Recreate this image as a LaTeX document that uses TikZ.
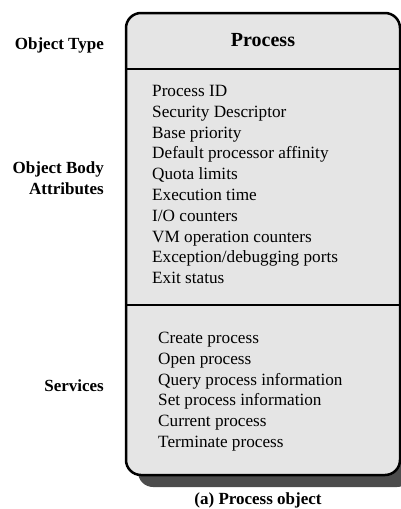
\documentclass[tikz,border=0pt]{standalone}
\usepackage{fontspec}
\setmainfont{Liberation Serif}
\begin{document}
\begin{tikzpicture}[x=1pt,y=-1pt,
  lbl/.style={font=\fontsize{17}{20.5}\selectfont\bfseries, align=right, anchor=east, inner sep=0pt},
  lst/.style={font=\fontsize{17.2}{20.8}\selectfont, align=left, anchor=north west, inner sep=0pt},
  border/.style={line width=2.5pt},
  ]
\useasboundingbox (0,0) rectangle (401,509);
\clip (0,0) rectangle (401,509);
% shadow
\fill[black!70, rounded corners=15pt] (138,25) rectangle (412,487);
% box
\draw[border, fill=black!10, rounded corners=15pt] (126,13) rectangle (400,475);
\coordinate (d1l) at (126,69);  \coordinate (d1r) at (400,69);
\coordinate (d2l) at (126,305); \coordinate (d2r) at (400,305);
\draw[border] (d1l) -- (d1r);
\draw[border] (d2l) -- (d2r);
% title
\node[font=\fontsize{20}{24}\selectfont\bfseries, inner sep=0pt] (title) at (263,40) {Process};
% lists
\node[lst] (attrs) at (152,85) {Process ID\\Security Descriptor\\Base priority\\Default processor affinity\\Quota limits\\Execution time\\I/O counters\\VM operation counters\\Exception/debugging ports\\Exit status};
\node[lst] (servs) at (158,332) {Create process\\Open process\\Query process information\\Set process information\\Current process\\Terminate process};
% labels
\node[lbl] (ltype) at (104,45) {Object Type};
\node[lbl] (lbody) at (104,178) {Object Body\\Attributes};
\node[lbl] (lserv) at (104,386) {Services};
\node[font=\fontsize{17}{20}\selectfont\bfseries, inner sep=0pt] (cap) at (258,500) {(a) Process object};
\end{tikzpicture}
\end{document}
